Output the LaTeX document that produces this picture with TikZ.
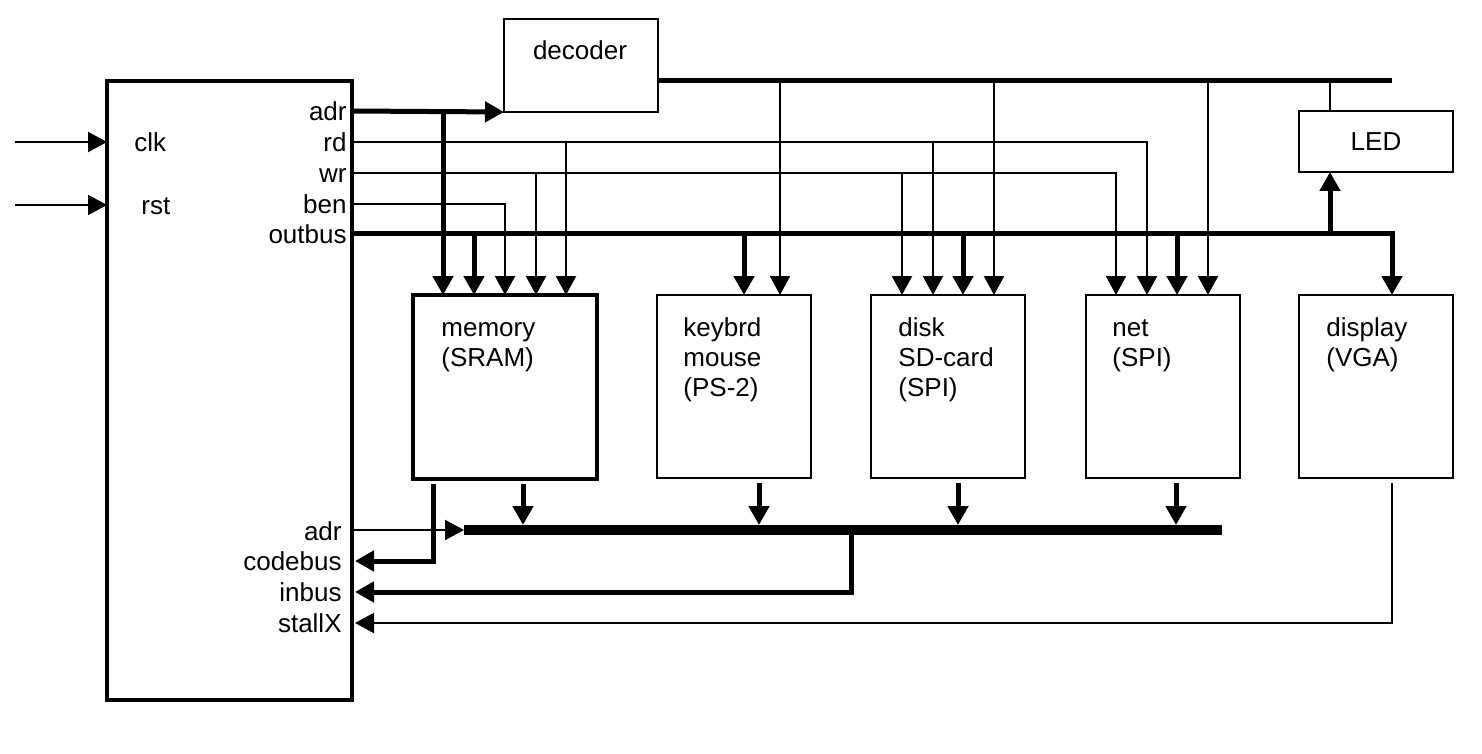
\documentclass[tikz,border=0pt]{standalone}
\usepackage{fontspec}
\setmainfont{Liberation Sans}
\usetikzlibrary{arrows.meta}
\begin{document}
\begin{tikzpicture}[x=0.5pt,y=-0.5pt,
  every node/.style={font=\fontsize{13}{15}\selectfont},
  blk/.style={draw,line width=1.2pt,inner sep=0pt,outer sep=0pt,minimum width=77pt,minimum height=91.5pt},
  boxtext/.style={anchor=north west,inner sep=0pt,align=left},
  siglabel/.style={anchor=mid east,inner sep=0pt,yshift=-2pt},
  leftlabel/.style={anchor=mid west,inner sep=0pt,yshift=-2pt},
  thinln/.style={line width=1.1pt},
  thickln/.style={line width=2.5pt},
  busln/.style={line width=5pt},
  tip/.style={-{Triangle[length=9.5pt,width=10pt]}}]
\useasboundingbox (0,0) rectangle (1482,754);

% boxes
\node[draw,line width=2.4pt,inner sep=0pt,outer sep=0pt,minimum width=122.5pt,minimum height=309.5pt] (cpu) at (229.5,390.5) {};
\node[draw,line width=1.2pt,inner sep=0pt,outer sep=0pt,minimum width=77pt,minimum height=46.5pt] (dec) at (581,65.5) {};
\node[draw,line width=1.2pt,inner sep=0pt,outer sep=0pt,minimum width=77pt,minimum height=30.5pt] (led) at (1376,141.5) {LED};
\node[draw,line width=2.4pt,inner sep=0pt,outer sep=0pt,minimum width=92pt,minimum height=92pt] (mem) at (505,387) {};
\node[blk] (kbd) at (734,386.5) {};
\node[blk] (disk) at (948,386.5) {};
\node[blk] (net) at (1163,386.5) {};
\node[blk] (disp) at (1376,386.5) {};

% texts
\node[anchor=center,inner sep=0pt] (dectext) at (580,50) {decoder};
\node[boxtext] (memtext) at (441,315) {\strut memory\\(SRAM)};
\node[boxtext] (kbdtext) at (683,315) {\strut keybrd\\mouse\\(PS-2)};
\node[boxtext] (disktext) at (898,315) {\strut disk\\SD-card\\(SPI)};
\node[boxtext] (nettext) at (1112,315) {\strut net\\(SPI)};
\node[boxtext] (disptext) at (1326,315) {\strut display\\(VGA)};

\node[leftlabel] (clkl) at (134,142) {clk};
\node[leftlabel] (rstl) at (141,205) {rst};
\node[siglabel] (adrl) at (347,111) {adr};
\node[siglabel] (rdl) at (347,142) {rd};
\node[siglabel] (wrl) at (347,173) {wr};
\node[siglabel] (benl) at (347,204) {ben};
\node[siglabel] (outl) at (347,234) {outbus};
\node[siglabel] (adr2l) at (342,531) {adr};
\node[siglabel] (codel) at (342,561) {codebus};
\node[siglabel] (inl) at (342,592) {inbus};
\node[siglabel] (stalll) at (342,623) {stallX};

% row coordinates
\coordinate (yadr) at (0,111);
\coordinate (yrd) at (0,142);
\coordinate (ywr) at (0,173);
\coordinate (yben) at (0,204);
\coordinate (yout) at (0,234);
\coordinate (clkS) at (15,142);
\coordinate (rstS) at (15,205);
\coordinate (dbusE) at (1392,81);
\coordinate (lbW) at (464,530);
\coordinate (lbE) at (1222,530);

% inputs
\draw[thinln,tip] (clkS) -- (cpu.west |- clkS);
\draw[thinln,tip] (rstS) -- (cpu.west |- rstS);

% adr to decoder
\draw[thickln,tip] (cpu.east |- yadr) -- (dec.south west);
% decoder bus
\draw[thickln] (dec.east |- dbusE) -- (dbusE);
% rd, wr, ben
\draw[thinln,tip] (cpu.east |- yrd) -- (1147,142) -- (1147,0 |- net.north);
\draw[thinln,tip] (cpu.east |- ywr) -- (1116,173) -- (1116,0 |- net.north);
\draw[thinln,tip] (cpu.east |- yben) -- (505,204) -- (505,0 |- mem.north);
% outbus
\draw[thickln,tip] (cpu.east |- yout) -- (1392,234) -- (1392,0 |- disp.north);

% memory inputs
\draw[thickln,tip] (443,111) -- (443,0 |- mem.north);
\draw[thickln,tip] (474,234) -- (474,0 |- mem.north);
\draw[thinln,tip] (536,173) -- (536,0 |- mem.north);
\draw[thinln,tip] (566,142) -- (566,0 |- mem.north);
% keyboard inputs
\draw[thickln,tip] (744,234) -- (744,0 |- kbd.north);
\draw[thinln,tip] (780,81) -- (780,0 |- kbd.north);
% disk inputs
\draw[thinln,tip] (902,173) -- (902,0 |- disk.north);
\draw[thinln,tip] (933,142) -- (933,0 |- disk.north);
\draw[thickln,tip] (963,234) -- (963,0 |- disk.north);
\draw[thinln,tip] (994,81) -- (994,0 |- disk.north);
% net inputs
\draw[thickln,tip] (1177,234) -- (1177,0 |- net.north);
\draw[thinln,tip] (1208,81) -- (1208,0 |- net.north);
% LED
\draw[thinln] (1330,81) -- (1330,0 |- led.north);
\draw[thickln,tip] (1330,234) -- (1330,0 |- led.south);

% lower bus
\draw[busln] (lbW) -- (lbE);
\draw[thinln,tip] (cpu.east |- lbW) -- (lbW);
\draw[thickln,tip,shorten <=2.5pt,shorten >=2.5pt] (523,0 |- mem.south) -- (523,0 |- lbW);
\draw[thickln,tip,shorten <=2.5pt,shorten >=2.5pt] (759,0 |- kbd.south) -- (759,0 |- lbW);
\draw[thickln,tip,shorten <=2.5pt,shorten >=2.5pt] (958,0 |- disk.south) -- (958,0 |- lbW);
\draw[thickln,tip,shorten <=2.5pt,shorten >=2.5pt] (1176,0 |- net.south) -- (1176,0 |- lbW);

% returns
\draw[thickln,tip,shorten <=2.5pt,shorten >=1.5pt] (433,0 |- mem.south) -- (433,561) -- (cpu.east |- 0,561);
\draw[thickln,tip,shorten >=1.5pt] (851,530) -- (851,592) -- (cpu.east |- 0,592);
\draw[thinln,tip,shorten <=2.5pt,shorten >=1.5pt] (1392,0 |- disp.south) -- (1392,623) -- (cpu.east |- 0,623);
\end{tikzpicture}
\end{document}
